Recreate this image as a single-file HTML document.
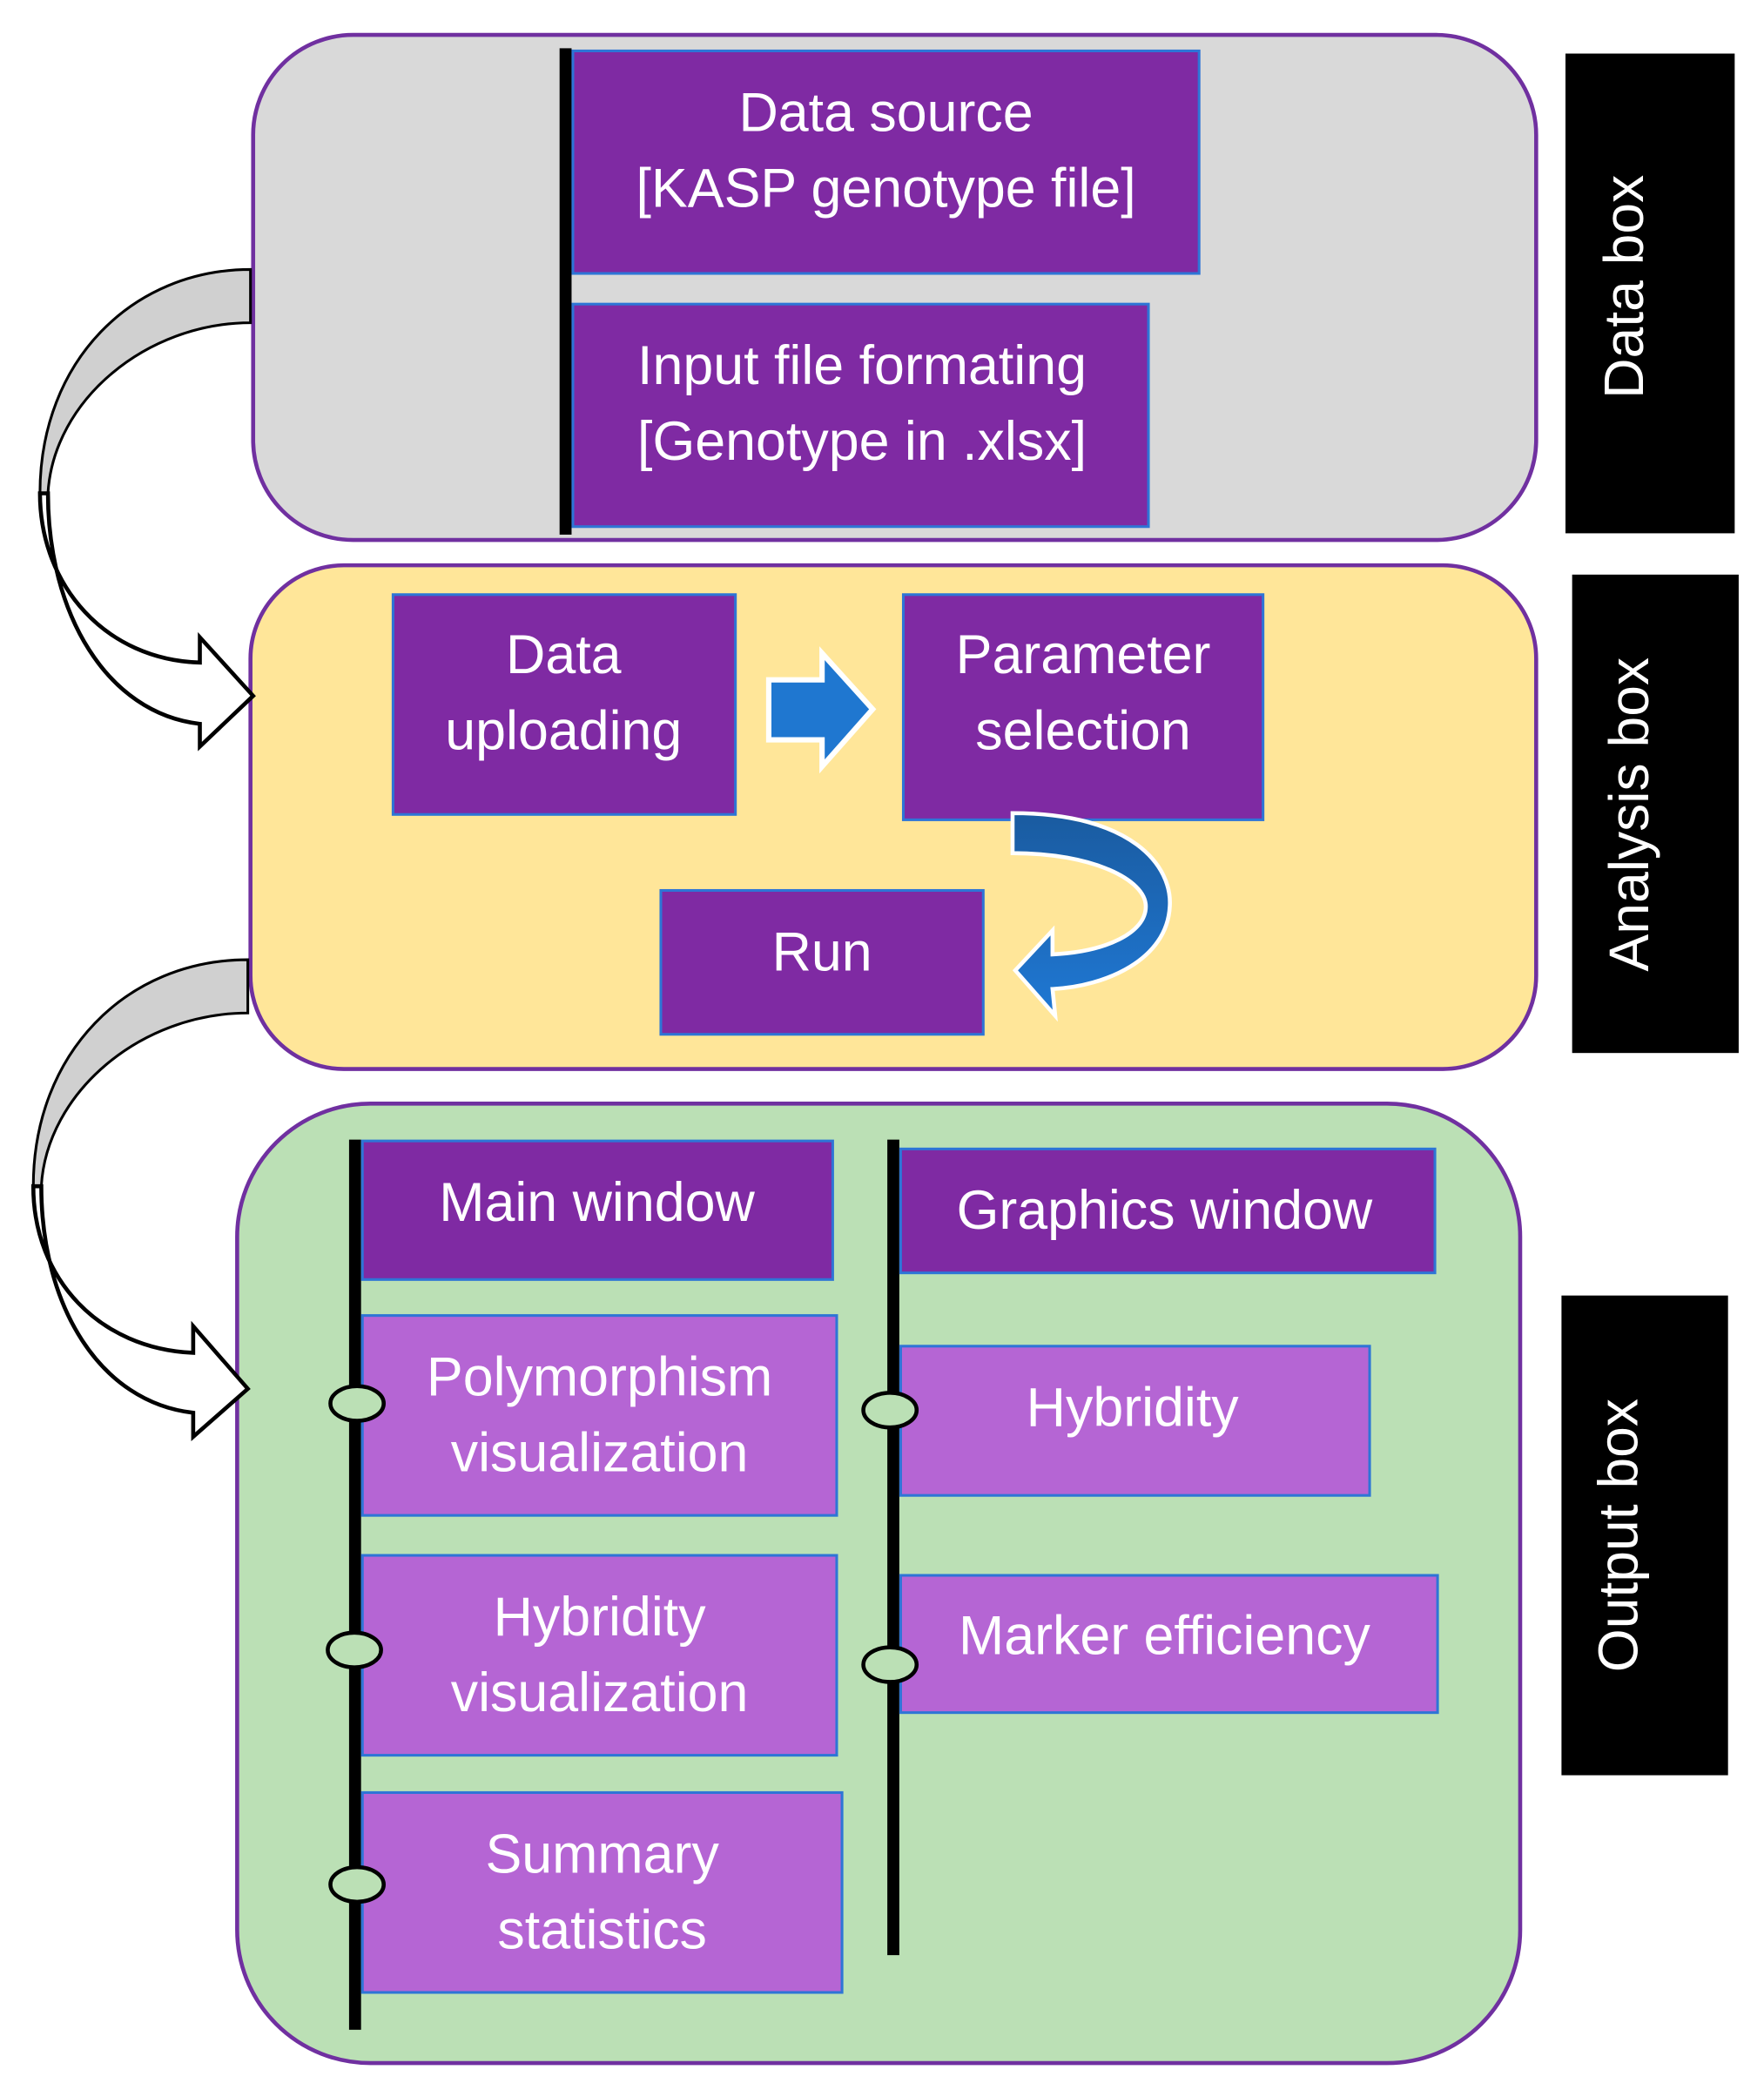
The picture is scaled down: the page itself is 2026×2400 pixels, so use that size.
<!DOCTYPE html>
<html><head><meta charset="utf-8"><style>
html,body{margin:0;padding:0;background:#fff;}
svg{display:block;}
text{font-family:"Liberation Sans",sans-serif;fill:#fff;text-anchor:middle;}
</style></head><body>
<svg width="2026" height="2400" viewBox="0 0 1324 1568" xmlns="http://www.w3.org/2000/svg">
<defs>
<linearGradient id="bg" x1="0" y1="0" x2="0" y2="1">
<stop offset="0" stop-color="#1a5ba0"/><stop offset="1" stop-color="#1f78d4"/>
</linearGradient>
</defs>
<!-- Data box -->
<rect x="190" y="26" width="963" height="379" rx="75" fill="#d9d9d9" stroke="#7030a0" stroke-width="3"/>
<rect x="420" y="36" width="9" height="365" fill="#000"/>
<rect x="430" y="38" width="470" height="167" fill="#7f2aa3" stroke="#2e75d6" stroke-width="2"/>
<text x="665" y="98" font-size="41">Data source</text>
<text x="665" y="155" font-size="41">[KASP genotype file]</text>
<rect x="430" y="228" width="432" height="167" fill="#7f2aa3" stroke="#2e75d6" stroke-width="2"/>
<text x="647" y="288" font-size="41">Input file formating</text>
<text x="647" y="345" font-size="41">[Genotype in .xlsx]</text>
<rect x="1175" y="40" width="127" height="360" fill="#000"/>
<text transform="translate(1233,215) rotate(-90)" x="0" y="0" font-size="42">Data box</text>

<!-- Analysis box -->
<rect x="188" y="424" width="965" height="378" rx="70" fill="#ffe699" stroke="#7030a0" stroke-width="3"/>
<rect x="295" y="446" width="257" height="165" fill="#7f2aa3" stroke="#2e75d6" stroke-width="2"/>
<text x="423" y="505" font-size="41">Data</text>
<text x="423" y="562" font-size="41">uploading</text>
<polygon points="577,510 617,510 617,490 655,532 617,575 617,555 577,555" fill="#1f77d0" stroke="#fff" stroke-width="4"/>
<rect x="678" y="446" width="270" height="169" fill="#7f2aa3" stroke="#2e75d6" stroke-width="2"/>
<text x="813" y="505" font-size="41">Parameter</text>
<text x="813" y="562" font-size="41">selection</text>
<rect x="496" y="668" width="242" height="108" fill="#7f2aa3" stroke="#2e75d6" stroke-width="2"/>
<text x="617" y="728" font-size="41">Run</text>
<path d="M760,610 C850,610 880,650 878,680 C876,720 830,740 790,742 L792,762 L762,728 L790,698 L790,716 C830,714 860,700 860,680 C860,660 820,640 760,640 Z" fill="url(#bg)" stroke="#fff" stroke-width="3"/>
<rect x="1180" y="431" width="125" height="359" fill="#000"/>
<text transform="translate(1237,611) rotate(-90)" x="0" y="0" font-size="42">Analysis box</text>

<!-- Output box -->
<rect x="178" y="828" width="963" height="720" rx="100" fill="#bbe0b5" stroke="#7030a0" stroke-width="3"/>
<rect x="262" y="855" width="9" height="668" fill="#000"/>
<rect x="666" y="855" width="9" height="612" fill="#000"/>
<rect x="272" y="856" width="353" height="104" fill="#7f2aa3" stroke="#2e75d6" stroke-width="2"/>
<text x="448" y="916" font-size="41">Main window</text>
<rect x="676" y="862" width="401" height="93" fill="#7f2aa3" stroke="#2e75d6" stroke-width="2"/>
<text x="874" y="922" font-size="41">Graphics window</text>
<rect x="272" y="987" width="356" height="150" fill="#b565d4" stroke="#2e75d6" stroke-width="2"/>
<text x="450" y="1047" font-size="41">Polymorphism</text>
<text x="450" y="1104" font-size="41">visualization</text>
<rect x="272" y="1167" width="356" height="150" fill="#b565d4" stroke="#2e75d6" stroke-width="2"/>
<text x="450" y="1227" font-size="41">Hybridity</text>
<text x="450" y="1284" font-size="41">visualization</text>
<rect x="272" y="1345" width="360" height="150" fill="#b565d4" stroke="#2e75d6" stroke-width="2"/>
<text x="452" y="1405" font-size="41">Summary</text>
<text x="452" y="1462" font-size="41">statistics</text>
<rect x="676" y="1010" width="352" height="112" fill="#b565d4" stroke="#2e75d6" stroke-width="2"/>
<text x="850" y="1070" font-size="41">Hybridity</text>
<rect x="676" y="1182" width="403" height="103" fill="#b565d4" stroke="#2e75d6" stroke-width="2"/>
<text x="874" y="1241" font-size="41">Marker efficiency</text>
<g fill="#bbe0b5" stroke="#000" stroke-width="3">
<ellipse cx="268" cy="1053" rx="20" ry="13"/>
<ellipse cx="266" cy="1238" rx="20" ry="13"/>
<ellipse cx="268" cy="1414" rx="20" ry="13"/>
<ellipse cx="668" cy="1058" rx="20" ry="13"/>
<ellipse cx="668" cy="1249" rx="20" ry="13"/>
</g>
<rect x="1172" y="972" width="125" height="360" fill="#000"/>
<text transform="translate(1229,1152) rotate(-90)" x="0" y="0" font-size="42">Output box</text>

<!-- Left curved arrows -->
<path d="M188,202 C100,202 30,270 30,370 L36,370 C40,300 110,242 188,242 Z" fill="#d0d0d0" stroke="#000" stroke-width="2"/>
<path d="M30,370 C30,440 80,495 150,497 L150,478 L190,522 L150,560 L150,543 C80,535 36,460 36,370 Z" fill="#fff" stroke="#000" stroke-width="3"/>
<path d="M186,720 C95,720 25,790 25,890 L31,890 C35,820 105,760 186,760 Z" fill="#d0d0d0" stroke="#000" stroke-width="2"/>
<path d="M25,890 C25,960 75,1012 145,1015 L145,995 L186,1042 L145,1078 L145,1060 C75,1052 31,980 31,890 Z" fill="#fff" stroke="#000" stroke-width="3"/>
</svg>
</body></html>
